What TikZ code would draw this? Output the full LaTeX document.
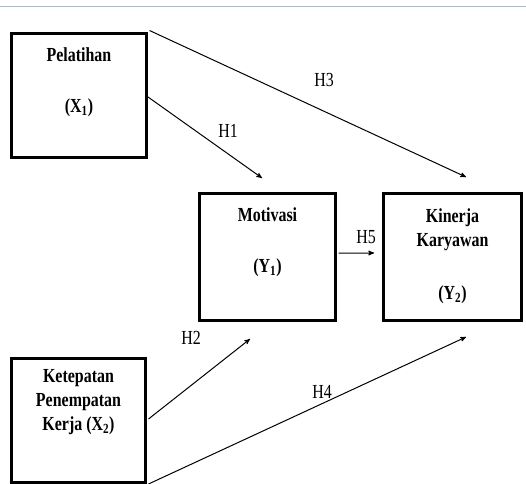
\documentclass[tikz,border=0pt]{standalone}
\usepackage{fontspec}
\setmainfont[FakeStretch=0.8]{Liberation Serif}
\usetikzlibrary{arrows,positioning,calc}
\tikzset{>=stealth'}
\tikzset{var box/.style={draw,line width=3bp,minimum width=#1,minimum height=127bp,inner sep=0pt},
         var text/.style={font=\fontsize{20}{24}\selectfont\bfseries,align=center,inner sep=0pt},
         hyp/.style={font=\fontsize{20}{24}\selectfont,inner sep=0pt},
            }

\begin{document}
\begin{tikzpicture}[x=1bp,y=-1bp]
    \useasboundingbox (0,0) rectangle (526,484);
    \draw[line width=1bp,color={rgb,255:red,170;green,186;blue,202}] (0,7) -- (526,7);

    % boxes
    \node[var box=135bp,minimum height=124bp] (pel) at (79,95.5) {};
    \node[var box=136bp] (mot) at (267.5,257) {};
    \node[var box=138bp] (kin) at (452.5,257) {};
    \node[var box=134bp,minimum height=124bp] (ket) at (78.5,420.5) {};

    % texts
    \node[var text] (pel1) at (79,55) {Pelatihan};
    \node[var text] (pel2) at (79,108) {(X\textsubscript{1})};
    \node[var text] (mot1) at (267.5,215) {Motivasi};
    \node[var text] (mot2) at (267.5,268) {(Y\textsubscript{1})};
    \node[var text] (kin1) at (452.5,230) {Kinerja\\Karyawan};
    \node[var text] (kin2) at (452.5,295) {(Y\textsubscript{2})};
    \node[var text] (ket1) at (78.5,402) {Ketepatan\\Penempatan\\Kerja (X\textsubscript{2})};

    % arrow ends
    \coordinate (h1end) at (262,178);
    \coordinate (h3end) at (466,177);
    \coordinate (h5end) at (374,253);
    \coordinate (h2end) at (250,339);
    \coordinate (h4end) at (466,337);

    \path[draw,->,line width=1bp]
    ([yshift=-1.5bp]pel.east) edge (h1end)
    ([xshift=1.5bp,yshift=1.5bp]pel.north east) edge (h3end)
    ([xshift=1.5bp,yshift=4bp]mot.east) edge (h5end)
    ([xshift=1.5bp,yshift=1.5bp]ket.east) edge (h2end)
    ([xshift=1.5bp]ket.south east) edge (h4end);

    \node[hyp] (h1) at (228,131) {H1};
    \node[hyp] (h3) at (324,80) {H3};
    \node[hyp] (h5) at (366,237) {H5};
    \node[hyp] (h2) at (191,338) {H2};
    \node[hyp] (h4) at (322,392) {H4};

\end{tikzpicture}
\end{document}
